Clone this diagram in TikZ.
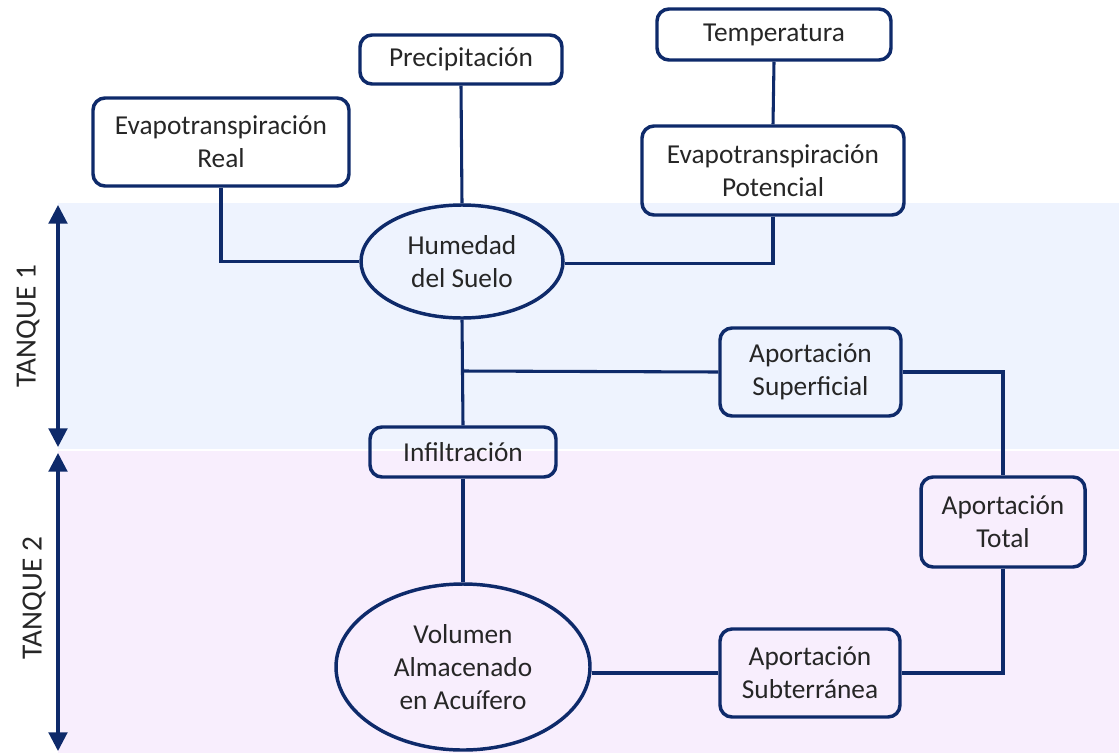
\documentclass[tikz,border=0pt]{standalone}
\usepackage{fontspec}
\setmainfont{Carlito}
\usetikzlibrary{shapes.geometric,arrows.meta}
\definecolor{navy}{HTML}{0E2A6A}
\definecolor{bandA}{HTML}{EEF3FE}
\definecolor{bandB}{HTML}{F8EEFD}
\definecolor{txt}{HTML}{262626}
\tikzset{
  box/.style={draw=navy, line width=2.6pt, rounded corners=9pt, align=center,
    inner sep=0pt, text=txt, font=\fontsize{20.5}{24.5}\selectfont},
  oval/.style={draw=navy, line width=2.6pt, ellipse, align=center, inner sep=0pt,
    text=txt, font=\fontsize{20.5}{24.5}\selectfont},
  link/.style={draw=navy, line width=2.3pt},
  tank/.style={draw=navy, line width=2.3pt, {Triangle[width=14pt,length=14pt]}-{Triangle[width=14pt,length=14pt]}},
  tanklabel/.style={text=txt, font=\fontsize{22}{26}\selectfont, rotate=90}
}
\begin{document}
\begin{tikzpicture}[x=0.75pt,y=-0.75pt]
\useasboundingbox (0,0) rectangle (1119,753);
% bands
\fill[bandA] (58,203) rectangle (1119,449);
\fill[bandB] (58,451) rectangle (1119,753);
% tank arrows
\coordinate (t1a) at (58,205);
\coordinate (t1b) at (58,447);
\coordinate (t2a) at (58,453);
\coordinate (t2b) at (58,751);
\draw[tank] (t1a) -- (t1b);
\draw[tank] (t2a) -- (t2b);
\node[tanklabel] (lab1) at (28,326) {TANQUE 1};
\node[tanklabel] (lab2) at (34,598) {TANQUE 2};
% nodes
\node[box, minimum width=256*0.75pt, minimum height=88*0.75pt] (etr) at (221,142) {Evapotranspiración\\Real};
\node[box, minimum width=202*0.75pt, minimum height=49*0.75pt] (pre) at (461,59.5) {Precipitación};
\node[box, minimum width=234*0.75pt, minimum height=51*0.75pt] (tem) at (774,34.5) {Temperatura};
\node[box, minimum width=262*0.75pt, minimum height=89*0.75pt] (etp) at (773,170.5) {Evapotranspiración\\Potencial};
\node[oval, minimum width=202*0.75pt, minimum height=113*0.75pt] (hum) at (462,261.5) {Humedad\\del Suelo};
\node[box, minimum width=181*0.75pt, minimum height=88*0.75pt] (asu) at (810.5,372) {Aportación\\Superficial};
\node[box, minimum width=186*0.75pt, minimum height=50*0.75pt] (inf) at (463,452) {Infiltración};
\node[box, minimum width=164*0.75pt, minimum height=90*0.75pt] (ato) at (1003,522) {Aportación\\Total};
\node[oval, minimum width=254*0.75pt, minimum height=166*0.75pt] (vol) at (463,667) {Volumen\\Almacenado\\en Acuífero};
\node[box, minimum width=180*0.75pt, minimum height=88*0.75pt] (asb) at (810,673) {Aportación\\Subterránea};
% connectors
\coordinate (j1) at (462,371);
\draw[link] (etr.south) |- (hum.west);
\draw[link] (pre.south) -- (hum.north);
\draw[link] (tem.south) -- (etp.north);
\draw[link] (etp.south) |- ([yshift=-1.5pt]hum.east);
\draw[link] (hum.south) -- (inf.north);
\draw[link] (j1) -- (asu.west);
\draw[link] (asu.east) -| (ato.north);
\draw[link] (ato.south) |- (asb.east);
\draw[link] (inf.south) -- (vol.north);
\draw[link] (vol.east |- asb.west) -- (asb.west);
\end{tikzpicture}
\end{document}
